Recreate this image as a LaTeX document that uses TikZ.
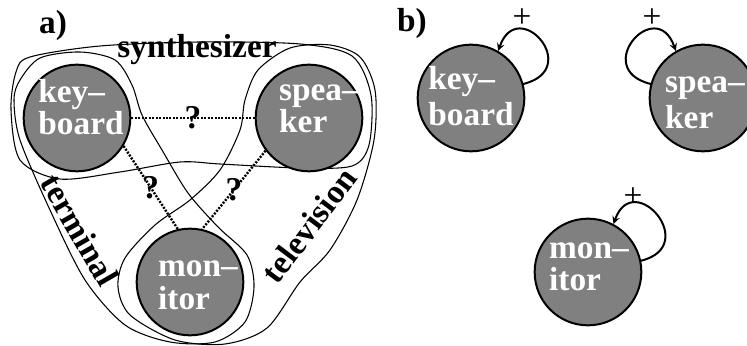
\documentclass[tikz,border=0pt]{standalone}
\usepackage{fontspec}
\setmainfont{Liberation Serif}
\usetikzlibrary{calc}

\begin{document}
\begin{tikzpicture}[x=0.75pt, y=0.75pt, line cap = round, line join = round, >=stealth]
\tikzstyle{device}=[circle, fill=gray, draw=black, line width=1.5pt, minimum size=80pt, inner sep=0pt]
\tikzstyle{devtext}=[text=white, align=left, inner sep=0pt, font=\fontsize{25}{21}\selectfont\bfseries]
\tikzstyle{tag}=[font=\fontsize{25}{26}\selectfont\bfseries]
\tikzstyle{plus}=[font=\fontsize{25}{26}\selectfont]
\tikzstyle{edge}=[line width=0.8pt]
\tikzstyle{link}=[line width=1.8pt, dash pattern=on 1.5pt off 1.1pt, line cap=butt]
\tikzstyle{self}=[line width=1.5pt, ->]
\useasboundingbox (0,0) rectangle (747,346);

% a) hypergraph
\node[tag] (a) at (53,321) {a)};
\draw[edge] plot[smooth cycle] coordinates {(30,289) (100,300) (200,304) (300,302) (352,290) (371,251) (369,201) (352,180) (300,178) (220,182) (180,184) (120,174) (60,167) (20,186) (11,236) (16,274)};
\draw[edge] plot[smooth cycle] coordinates {(20,266) (40,288) (80,294) (115,286) (132,261) (142,231) (162,196) (188,153) (218,119) (247,91) (254,59) (245,24) (215,4) (170,4) (125,21) (85,66) (50,136) (20,206) (14,246)};
\draw[edge] plot[smooth cycle] coordinates {(258,276) (290,298) (330,301) (360,289) (375,256) (374,206) (357,146) (330,96) (300,64) (267,18) (225,2) (175,6) (130,31) (118,59) (125,88) (155,121) (190,146) (220,176) (240,216) (245,246)};
\node[tag] (synth) at (197,296) {synthesizer};
\node[tag, rotate=-60] (term) at (80,116) {terminal};
\node[tag, rotate=53] (tv) at (309,121) {television};

\node[device] (kb) at (77,228) {};
\node[device] (sp) at (309,228) {};
\node[device] (mo) at (190,64) {};
\node[devtext] (kbt) at (81,239) {key--\\board};
\node[devtext] (spt) at (319,237) {spea--\\ker};
\node[devtext] (mot) at (198,61) {mon--\\[4pt]itor};

\draw[link] (kb.east) -- (sp.west) node[midway, tag] {?};
\draw[link] (kb.-31) -- (mo.103) node[midway, tag] {?};
\draw[link] (sp.-143) -- (mo.77) node[midway, tag] {?};

% b) self loops
\node[tag] (b) at (412,323) {b)};
\node[device] (kb2) at (471,248) {};
\node[device] (sp2) at (703,248) {};
\node[device] (mo2) at (588,74) {};
\node[devtext] (kb2t) at (471,250) {key--\\[3pt]board};
\node[devtext] (sp2t) at (705,243) {spea--\\[3pt]ker};
\node[devtext] (mo2t) at (589,79) {mon--\\[3pt]itor};

\draw[self] (kb2.15) .. controls +(60,15) and +(20,56) .. (kb2.60);
\draw[self] (sp2.165) .. controls +(-60,15) and +(-20,56) .. (sp2.120);
\draw[self] (mo2.12) .. controls +(60,15) and +(20,56) .. (mo2.62);
\node[plus] (p1) at (522,328) {+};
\node[plus] (p2) at (652,328) {+};
\node[plus] (p3) at (633,149) {+};
\end{tikzpicture}
\end{document}
